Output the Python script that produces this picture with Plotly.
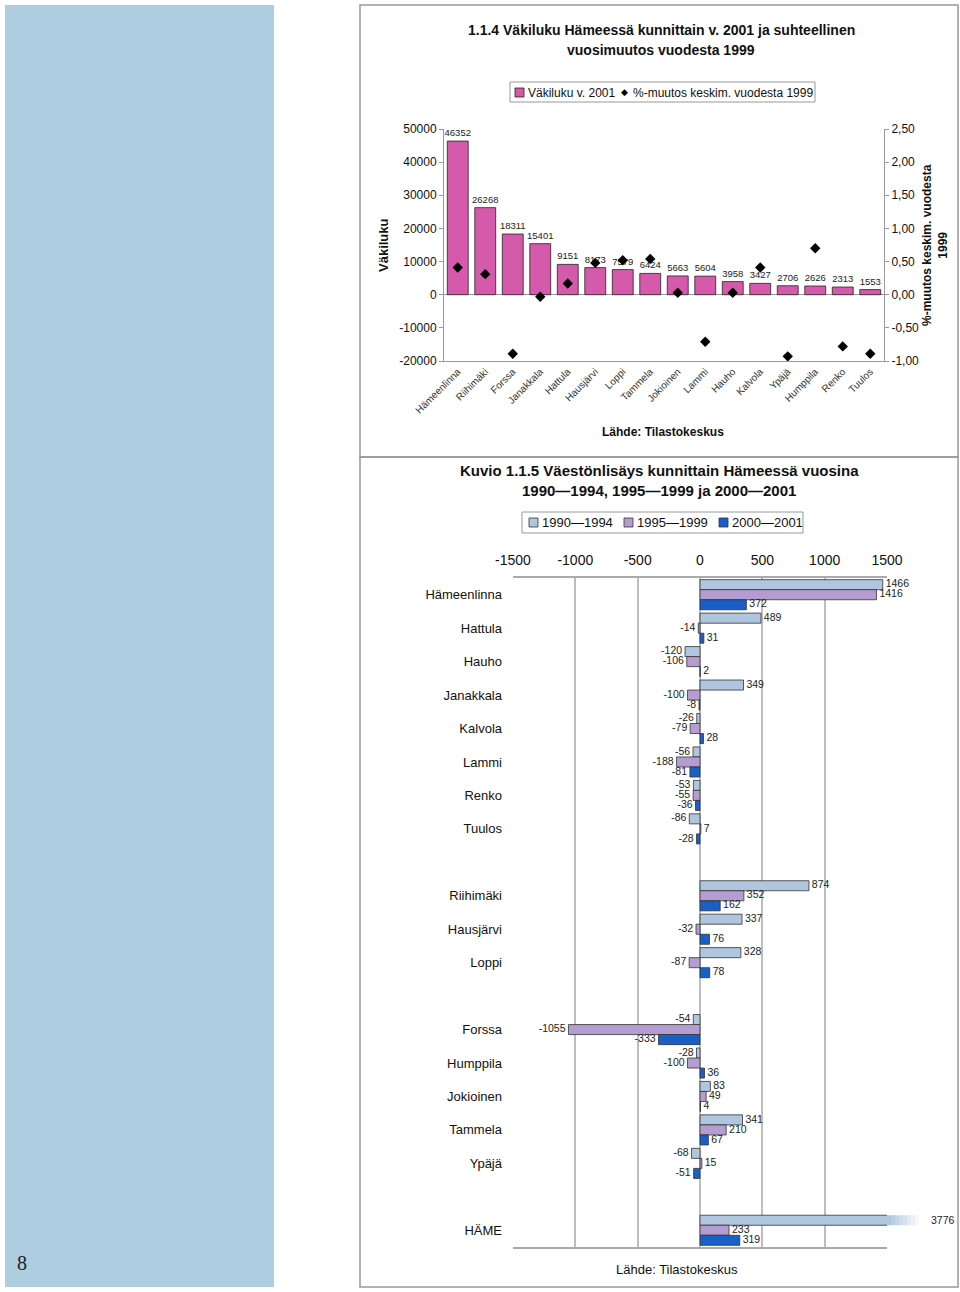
import plotly.graph_objects as go

W, H = 960, 1292


def px_x(x):
    return x / W


def px_y(y):
    return 1 - y / H


FONT = "Liberation Sans, Arial, sans-serif"

# ---------------- top chart data ----------------
kunnat = ["Hämeenlinna", "Riihimäki", "Forssa", "Janakkala", "Hattula", "Hausjärvi",
          "Loppi", "Tammela", "Jokioinen", "Lammi", "Hauho", "Kalvola", "Ypäjä",
          "Humppila", "Renko", "Tuulos"]
vakiluku_2001 = [46352, 26268, 18311, 15401, 9151, 8173, 7579, 6424, 5663, 5604,
                 3958, 3427, 2706, 2626, 2313, 1553]
muutos_pct = [0.41, 0.31, -0.89, -0.03, 0.17, 0.48, 0.52, 0.54, 0.03, -0.71,
              0.03, 0.41, -0.93, 0.70, -0.78, -0.89]
vakiluku_ticks = [-20000, -10000, 0, 10000, 20000, 30000, 40000, 50000]
muutos_ticks = [-1.0, -0.5, 0.0, 0.5, 1.0, 1.5, 2.0, 2.5]
top_names = ["Väkiluku v. 2001", "%-muutos keskim. vuodesta 1999"]
bar_color = "#D65AAC"

# ---------------- bottom chart data ----------------
alueryhmat = [
    ["Hämeenlinna", "Hattula", "Hauho", "Janakkala", "Kalvola", "Lammi", "Renko", "Tuulos"],
    ["Riihimäki", "Hausjärvi", "Loppi"],
    ["Forssa", "Humppila", "Jokioinen", "Tammela", "Ypäjä"],
    ["HÄME"],
]
lisays_1990_1994 = [1466, 489, -120, 349, -26, -56, -53, -86,
                    874, 337, 328,
                    -54, -28, 83, 341, -68,
                    3776]
lisays_1995_1999 = [1416, -14, -106, -100, -79, -188, -55, 7,
                    352, -32, -87,
                    -1055, -100, 49, 210, 15,
                    233]
lisays_2000_2001 = [372, 31, 2, -8, 28, -81, -36, -28,
                    162, 76, 78,
                    -333, 36, 4, 67, -51,
                    319]
kausi_nimet = ["1990\u20141994", "1995\u20141999", "2000\u20142001"]
kausi_varit = ["#AFC6DE", "#B59DD2", "#1A5FC6"]
lisays_ticks = [-1500, -1000, -500, 0, 500, 1000, 1500]
x_min, x_max = -1500, 1500

# slot positions (one empty slot between groups)
alueet, paikat = [], []
pos = 0
for ryhma in alueryhmat:
    for nimi in ryhma:
        alueet.append(nimi)
        paikat.append(pos)
        pos += 1
    pos += 1
n_slots = paikat[-1] + 1

BARGAP = 0.1
bar_h = (1 - BARGAP) / len(kausi_nimet)

fig = go.Figure()

# top chart traces
fig.add_trace(go.Bar(
    x=kunnat, y=vakiluku_2001, name=top_names[0],
    marker=dict(color=bar_color, line=dict(color="#222", width=0.8)),
    width=0.76,
    text=[str(v) for v in vakiluku_2001], textposition="outside",
    textfont=dict(size=9.5, color="#222", family=FONT),
    constraintext="none", cliponaxis=False,
    xaxis="x", yaxis="y",
))
fig.add_trace(go.Scatter(
    x=kunnat, y=muutos_pct, name=top_names[1],
    mode="markers", marker=dict(symbol="diamond", size=8, color="#000"),
    xaxis="x", yaxis="y2",
))

# bottom chart traces
sarjat = [lisays_1990_1994, lisays_1995_1999, lisays_2000_2001]
for i, (nimi, arvot, vari) in enumerate(zip(kausi_nimet, sarjat, kausi_varit)):
    fig.add_trace(go.Bar(
        y=paikat, x=arvot, orientation="h", name=nimi,
        marker=dict(color=vari, line=dict(color="#333", width=0.8)),
        cliponaxis=True, xaxis="x3", yaxis="y3",
    ))
for i, arvot in enumerate(sarjat):
    offset = (i - (len(sarjat) - 1) / 2) * bar_h
    xs, ys, ts, tp = [], [], [], []
    for p, v in zip(paikat, arvot):
        if x_min <= v <= x_max:
            xs.append(v)
            ys.append(p + offset)
            ts.append(" " + str(v) if v >= 0 else str(v) + " ")
            tp.append("middle right" if v >= 0 else "middle left")
    fig.add_trace(go.Scatter(
        x=xs, y=ys, text=ts, mode="text", textposition=tp,
        textfont=dict(size=10.5, color="#222", family=FONT),
        cliponaxis=False, xaxis="x3", yaxis="y3", hoverinfo="skip",
    ))

annotations = []
shapes = [
    # left page band
    dict(type="rect", xref="paper", yref="paper", x0=px_x(5), x1=px_x(274),
         y0=px_y(1287), y1=px_y(5), fillcolor="#AFCDE1", line=dict(width=0), layer="below"),
    # frames
    dict(type="rect", xref="paper", yref="paper", x0=px_x(360), x1=px_x(958),
         y0=px_y(457), y1=px_y(5), line=dict(color="#999", width=1.5)),
    dict(type="rect", xref="paper", yref="paper", x0=px_x(360), x1=px_x(958),
         y0=px_y(1287), y1=px_y(457), line=dict(color="#999", width=1.5)),
]

# clipped bar: fading continuation + label
off0 = -(len(sarjat) - 1) / 2 * bar_h
for p, v in zip(paikat, lisays_1990_1994):
    if v > x_max:
        steps = 8
        for k in range(steps):
            shapes.append(dict(type="rect", xref="paper", yref="y3",
                               x0=px_x(887 + k * 4), x1=px_x(891 + k * 4),
                               y0=p + off0 - bar_h / 2, y1=p + off0 + bar_h / 2,
                               fillcolor="#AFC6DE", opacity=1 - k / steps,
                               line=dict(width=0)))
        annotations.append(dict(x=px_x(929), xref="paper", xanchor="left",
                                y=p + off0, yref="y3", text=str(v), showarrow=False,
                                font=dict(size=10.5, color="#222", family=FONT)))

# manual legends
# top legend
shapes.append(dict(type="rect", xref="paper", yref="paper", x0=px_x(510), x1=px_x(815),
                   y0=px_y(102), y1=px_y(82), line=dict(color="#999", width=1),
                   fillcolor="white"))
shapes.append(dict(type="rect", xref="paper", yref="paper", x0=px_x(515), x1=px_x(524),
                   y0=px_y(97), y1=px_y(88), line=dict(color="#222", width=0.8),
                   fillcolor=bar_color))
annotations.append(dict(x=px_x(526), y=px_y(92.5), xref="paper", yref="paper",
                        xanchor="left", yanchor="middle", showarrow=False,
                        text=top_names[0], font=dict(size=12, color="#111", family=FONT)))
annotations.append(dict(x=px_x(624), y=px_y(92), xref="paper", yref="paper",
                        xanchor="center", yanchor="middle", showarrow=False,
                        text="\u25c6", font=dict(size=9, color="#000", family="DejaVu Sans")))
annotations.append(dict(x=px_x(631), y=px_y(92.5), xref="paper", yref="paper",
                        xanchor="left", yanchor="middle", showarrow=False,
                        text=top_names[1], font=dict(size=12, color="#111", family=FONT)))
# bottom legend
shapes.append(dict(type="rect", xref="paper", yref="paper", x0=px_x(522), x1=px_x(803),
                   y0=px_y(533), y1=px_y(512), line=dict(color="#999", width=1),
                   fillcolor="white"))
leg_x = [529, 624, 719]
for lx, nimi, vari in zip(leg_x, kausi_nimet, kausi_varit):
    shapes.append(dict(type="rect", xref="paper", yref="paper", x0=px_x(lx), x1=px_x(lx + 9),
                       y0=px_y(527), y1=px_y(518), line=dict(color="#333", width=0.8),
                       fillcolor=vari))
    annotations.append(dict(x=px_x(lx + 11), y=px_y(522.5), xref="paper", yref="paper",
                            xanchor="left", yanchor="middle", showarrow=False,
                            text=nimi, font=dict(size=13, color="#111", family=FONT)))


def txt(x, y, text, size, bold=False, angle=0, family=FONT, color="#111"):
    return dict(x=px_x(x), y=px_y(y), xref="paper", yref="paper", showarrow=False,
                xanchor="center", yanchor="middle", textangle=angle,
                text=f"<b>{text}</b>" if bold else text,
                font=dict(size=size, color=color, family=family))


annotations += [
    txt(661, 30, "1.1.4 Väkiluku Hämeessä kunnittain v. 2001 ja suhteellinen", 14, True),
    txt(661, 50, "vuosimuutos vuodesta 1999", 14, True),
    txt(384, 245, "Väkiluku", 13, True, -90),
    txt(935, 245, "%-muutos keskim. vuodesta<br>1999", 12, True, -90),
    txt(663, 432, "Lähde: Tilastokeskus", 12, True),
    txt(659, 470, "Kuvio 1.1.5 Väestönlisäys kunnittain Hämeessä vuosina", 15, True),
    txt(659, 491, "1990\u20141994, 1995\u20141999 ja 2000\u20142001", 15, True),
    txt(677, 1269, "Lähde: Tilastokeskus", 13),
    txt(22, 1263, "8", 20, family="Liberation Serif, serif", color="#222"),
]

fig.update_layout(
    width=W, height=H, margin=dict(l=0, r=0, t=0, b=0, autoexpand=False),
    paper_bgcolor="white", plot_bgcolor="white",
    font=dict(family=FONT, color="#111"),
    barmode="group", bargap=BARGAP, bargroupgap=0,
    showlegend=False,
    xaxis=dict(domain=[px_x(444), px_x(884)], anchor="y", type="category",
               range=[-0.5, len(kunnat) - 0.5],
               tickangle=-45, tickfont=dict(size=10, color="#333", family=FONT),
               showline=True, linecolor="#999", ticks="", showgrid=False,
               automargin=False),
    yaxis=dict(domain=[px_y(361), px_y(129)], anchor="x", range=[-20000, 50000],
               tickvals=vakiluku_ticks, ticktext=[str(v) for v in vakiluku_ticks],
               tickfont=dict(size=12, color="#111", family=FONT),
               showline=True, linecolor="#999", ticks="outside", ticklen=4,
               tickcolor="#999", showgrid=False, zeroline=True,
               zerolinecolor="#999", zerolinewidth=1, automargin=False),
    yaxis2=dict(overlaying="y", side="right", anchor="x", range=[-1.0, 2.5],
                tickvals=muutos_ticks,
                ticktext=[f"{v:.2f}".replace(".", ",") for v in muutos_ticks],
                tickfont=dict(size=12, color="#111", family=FONT),
                showline=True, linecolor="#999", ticks="outside", ticklen=4,
                tickcolor="#999", showgrid=False, zeroline=False, automargin=False),
    xaxis3=dict(domain=[px_x(513), px_x(887)], anchor="y3", side="top",
                range=[x_min, x_max], tickvals=lisays_ticks,
                ticktext=[str(v) for v in lisays_ticks],
                tickfont=dict(size=14, color="#111", family=FONT),
                showgrid=True, gridcolor="#BDBDBD", gridwidth=1.5,
                showline=True, mirror=True, linecolor="#AAA", linewidth=1.5,
                ticks="", ticklabelstandoff=6, zeroline=False, automargin=False),
    yaxis3=dict(domain=[px_y(1247), px_y(578)], anchor="x3",
                range=[n_slots - 0.5, -0.5], tickvals=paikat, ticktext=alueet,
                tickfont=dict(size=13, color="#111", family=FONT),
                showgrid=False, zeroline=False, ticks="", ticklabelstandoff=10,
                showline=False, automargin=False),
    shapes=shapes,
    annotations=annotations,
)

fig.write_html("out.html", post_script="document.body.style.margin='0px';",
               config={"displayModeBar": False})
